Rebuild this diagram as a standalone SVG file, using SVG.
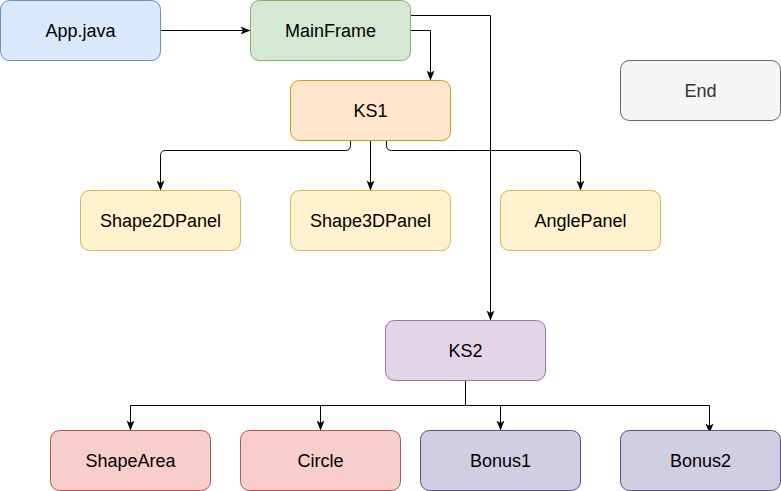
<svg xmlns="http://www.w3.org/2000/svg" width="781" height="491" viewBox="0 0 781 491">
<defs>
<marker id="arr" viewBox="0 0 10 10" refX="9" refY="5" markerWidth="10" markerHeight="10" markerUnits="userSpaceOnUse" orient="auto">
<path d="M0,1 L10,5 L0,9 L2.5,5 Z" fill="#000"/>
</marker>
<style>
.n rect{stroke-width:1}
.n text{font-family:"Liberation Sans",Arial,sans-serif;font-size:18px;text-anchor:middle;dominant-baseline:central;fill:#000}
.c path{fill:none;stroke:#000;stroke-width:1;marker-end:url(#arr)}
.blue{fill:#dae8fc;stroke:#6c8ebf}
.green{fill:#d5e8d4;stroke:#82b366}
.orange{fill:#ffe6cc;stroke:#d79b00}
.yellow{fill:#fff2cc;stroke:#d6b656}
.purple{fill:#e1d5e7;stroke:#9673a6}
.red{fill:#f8cecc;stroke:#b85450}
.dpurple{fill:#d0cee2;stroke:#56517e}
.gray{fill:#f5f5f5;stroke:#666666}
</style>
</defs>
<g id="connectors" class="c">
<path d="M160.5,30.5 H249.5"/>
<path d="M410.5,30.5 H430.5 V79.5"/>
<path d="M410.5,15.5 H490.5 V319.5"/>
<path d="M350.5,140.5 V145.5 Q350.5,150.5 345.5,150.5 H165.5 Q160.5,150.5 160.5,155.5 V189.5"/>
<path d="M370.5,140.5 V189.5"/>
<path d="M386.5,140.5 V145.5 Q386.5,150.5 391.5,150.5 H575.5 Q580.5,150.5 580.5,155.5 V189.5"/>
<path d="M465.5,380.5 V405.5 H130.5 V429.5"/>
<path d="M320.5,405.5 V429.5"/>
<path d="M465.5,405.5 H500.5 V429.5"/>
<path d="M500.5,405.5 H709.5 V432.5"/>
</g>
<g id="app" class="n"><rect class="blue" x="0.5" y="0.5" width="160" height="60" rx="9"/><text x="80.5" y="30.5">App.java</text></g>
<g id="mainframe" class="n"><rect class="green" x="250.5" y="0.5" width="160" height="60" rx="9"/><text x="330.5" y="30.5">MainFrame</text></g>
<g id="ks1" class="n"><rect class="orange" x="290.5" y="80.5" width="160" height="60" rx="9"/><text x="370.5" y="110.5">KS1</text></g>
<g id="end" class="n"><rect class="gray" x="620.5" y="60.5" width="160" height="60" rx="9"/><text x="700.5" y="90.5" style="fill:#333333">End</text></g>
<g id="shape2d" class="n"><rect class="yellow" x="80.5" y="190.5" width="160" height="60" rx="9"/><text x="160.5" y="220.5">Shape2DPanel</text></g>
<g id="shape3d" class="n"><rect class="yellow" x="290.5" y="190.5" width="160" height="60" rx="9"/><text x="370.5" y="220.5">Shape3DPanel</text></g>
<g id="angle" class="n"><rect class="yellow" x="500.5" y="190.5" width="160" height="60" rx="9"/><text x="580.5" y="220.5">AnglePanel</text></g>
<g id="ks2" class="n"><rect class="purple" x="385.5" y="320.5" width="160" height="60" rx="9"/><text x="465.5" y="350.5">KS2</text></g>
<g id="shapearea" class="n"><rect class="red" x="50.5" y="430.5" width="160" height="60" rx="9"/><text x="130.5" y="460.5">ShapeArea</text></g>
<g id="circle" class="n"><rect class="red" x="240.5" y="430.5" width="160" height="60" rx="9"/><text x="320.5" y="460.5">Circle</text></g>
<g id="bonus1" class="n"><rect class="dpurple" x="420.5" y="430.5" width="160" height="60" rx="9"/><text x="500.5" y="460.5">Bonus1</text></g>
<g id="bonus2" class="n"><rect class="dpurple" x="620.5" y="430.5" width="160" height="60" rx="9"/><text x="700.5" y="460.5">Bonus2</text></g>
</svg>
